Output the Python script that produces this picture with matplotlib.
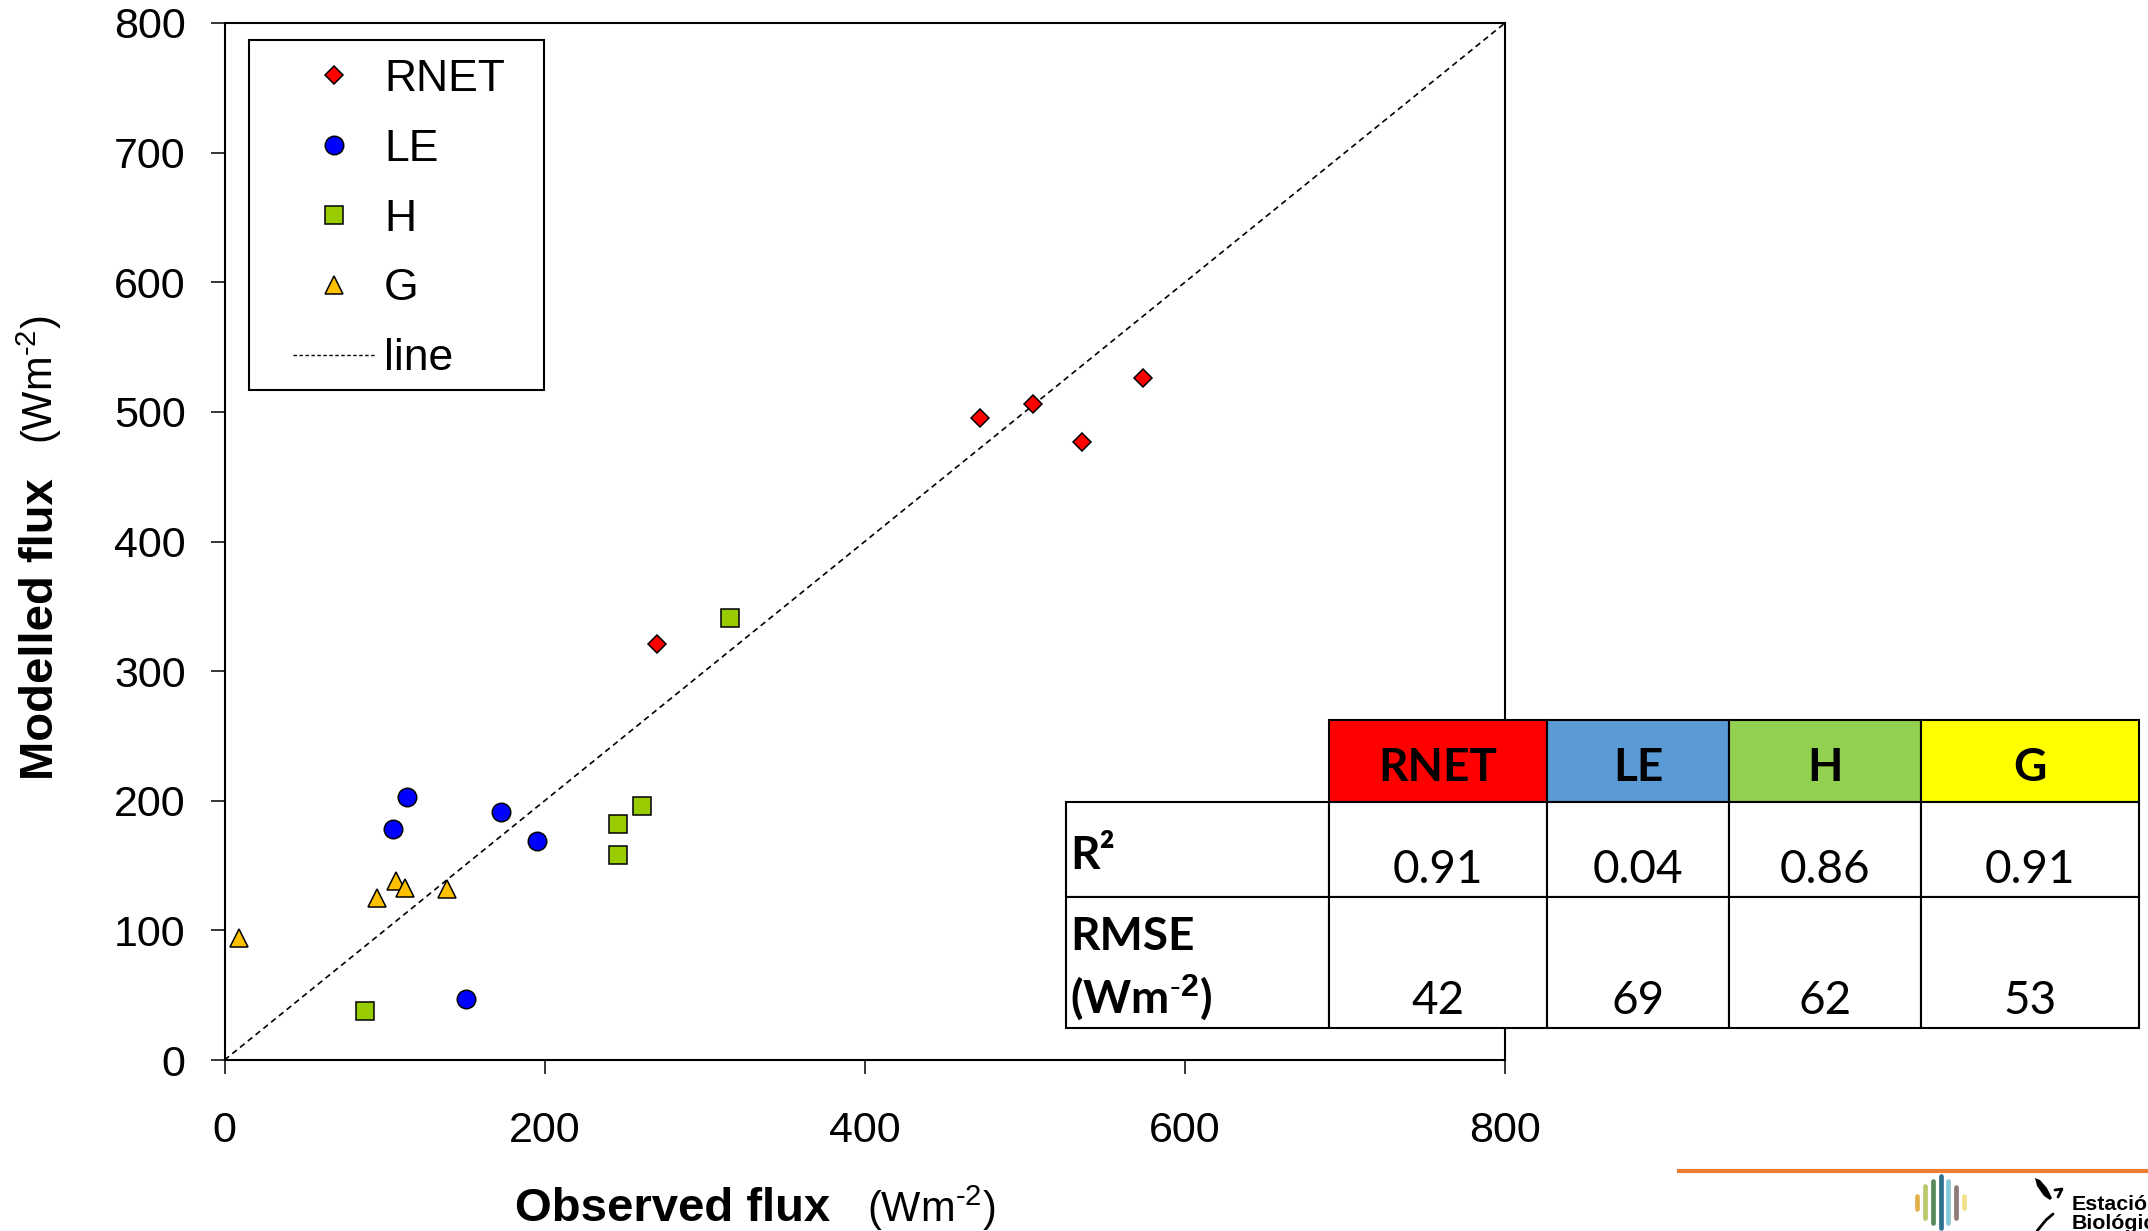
import matplotlib
matplotlib.use('Agg')
import matplotlib.pyplot as plt
from matplotlib.patches import Rectangle
from matplotlib.lines import Line2D

# ---------------- data ----------------
rnet_obs = [270, 472, 505, 536, 574]
rnet_mod = [321, 495, 506, 477, 526]
le_obs = [114, 105, 173, 195, 151]
le_mod = [203, 178, 191, 169, 47]
h_obs = [316, 261, 246, 246, 88]
h_mod = [341, 196, 182, 158, 38]
g_obs = [9, 95, 107, 113, 139]
g_mod = [94, 125, 138, 133, 132]
line_x = [0, 800]
line_y = [0, 800]
x_ticks = [0, 200, 400, 600, 800]
y_ticks = [0, 100, 200, 300, 400, 500, 600, 700, 800]
series_labels = ['RNET', 'LE', 'H', 'G', 'line']
table_cols = ['RNET', 'LE', 'H', 'G']
table_col_colors = ['#FF0000', '#5B9BD5', '#92D050', '#FFFF00']
r2_vals = ['0.91', '0.04', '0.86', '0.91']
rmse_vals = ['42', '69', '62', '53']

plt.rcParams['font.family'] = ['Liberation Sans', 'DejaVu Sans']
plt.rcParams['mathtext.fontset'] = 'custom'
plt.rcParams['mathtext.rm'] = 'Liberation Sans'
plt.rcParams['mathtext.it'] = 'Liberation Sans:italic'
plt.rcParams['mathtext.bf'] = 'Liberation Sans:bold'

W, H = 2148, 1231
fig = plt.figure(figsize=(W / 100, H / 100), dpi=100)
fig.patch.set_facecolor('white')

ax = fig.add_axes([224.5 / W, 1 - 1060 / H, (1505 - 224.5) / W, 1037 / H])
ax.set_xlim(0, 800)
ax.set_ylim(0, 800)
for s in ax.spines.values():
    s.set_linewidth(1.5)
ax.set_xticks(x_ticks)
ax.set_yticks(y_ticks)
ax.tick_params(direction='out', length=10, width=1.1, labelsize=31)
ax.tick_params(axis='x', pad=27)
ax.tick_params(axis='y', pad=18)

ln, = ax.plot(line_x, line_y, color='black', lw=1.2, linestyle=(0, (3.5, 2.5)), zorder=2)
mew = 1.1
p1, = ax.plot(rnet_obs, rnet_mod, 'D', ms=9.2, mfc='#FF0000', mec='black', mew=mew, ls='none', zorder=3)
p2, = ax.plot(le_obs, le_mod, 'o', ms=13.3, mfc='#0000FF', mec='black', mew=mew, ls='none', zorder=3)
p3, = ax.plot(h_obs, h_mod, 's', ms=13.3, mfc='#99CC00', mec='black', mew=mew, ls='none', zorder=3)
p4, = ax.plot(g_obs, g_mod, '^', ms=13.3, mfc='#FFC000', mec='black', mew=mew, ls='none', zorder=3)
proxy = Line2D([], [], color='black', lw=1.0, linestyle=(0, (2.5, 1.8)))

leg = ax.legend([p1, p2, p3, p4, proxy], series_labels, loc='upper left',
                bbox_to_anchor=(293 / W, 1 - 59 / H), bbox_transform=fig.transFigure,
                frameon=False, borderpad=0, borderaxespad=0, fontsize=32,
                handlelength=1.85, handletextpad=0.2, labelspacing=0.648, numpoints=1)

# ---------------- overlay in pixel coords ----------------
ov = fig.add_axes([0, 0, 1, 1], zorder=10)
ov.set_xlim(0, W)
ov.set_ylim(H, 0)
ov.axis('off')

# legend frame
ov.add_patch(Rectangle((249, 40), 295, 350, fill=False, ec='black', lw=1.5))

# axis labels
ov.text(672.6, 1221, 'Observed flux', fontsize=34, fontweight='bold', ha='center', va='baseline')
ov.text(931.5, 1222, r'(Wm$^{\text{-}2}$)', fontsize=30, ha='center', va='baseline')
ov.text(53, 629, 'Modelled flux', fontsize=34, fontweight='bold', rotation=90,
        rotation_mode='anchor', ha='center', va='baseline')
ov.text(53, 380, r'(Wm$^{\text{-}2}$)', fontsize=30, rotation=90,
        rotation_mode='anchor', ha='center', va='baseline')

# table
col_edges = [1328.6, 1547.2, 1729, 1920.5, 2139]
lab_left = 1065.6
y_head, y_r1, y_r2, y_bot = 720, 802.3, 897.3, 1028.3
tlw = 1.5
tfont = ['Lato', 'DejaVu Sans']
ov.add_patch(Rectangle((lab_left, y_r1), col_edges[0] - lab_left, y_r2 - y_r1, fc='white', ec='black', lw=tlw))
ov.add_patch(Rectangle((lab_left, y_r2), col_edges[0] - lab_left, y_bot - y_r2, fc='white', ec='black', lw=tlw))
for i, name in enumerate(table_cols):
    x0, x1 = col_edges[i], col_edges[i + 1]
    xc = (x0 + x1) / 2
    ov.add_patch(Rectangle((x0, y_head), x1 - x0, y_r1 - y_head, fc=table_col_colors[i], ec='black', lw=tlw))
    ov.add_patch(Rectangle((x0, y_r1), x1 - x0, y_r2 - y_r1, fc='white', ec='black', lw=tlw))
    ov.add_patch(Rectangle((x0, y_r2), x1 - x0, y_bot - y_r2, fc='white', ec='black', lw=tlw))
    ov.text(xc, 780.7, name, fontsize=33, fontweight='bold', family=tfont, ha='center', va='baseline')
    ov.text(xc, 883.3, r2_vals[i], fontsize=33, family=tfont, ha='center', va='baseline')
    ov.text(xc, 1014, rmse_vals[i], fontsize=33, family=tfont, ha='center', va='baseline')
ov.text(1070, 869.3, 'R²', fontsize=33, fontweight='bold', family=tfont, ha='left', va='baseline')
ov.text(1070, 950, 'RMSE', fontsize=33, fontweight='bold', family=tfont, ha='left', va='baseline')
ov.text(1070, 1014, r'(Wm$^{\mathbf{\text{-}2}}$)', fontsize=33, fontweight='bold', family=tfont,
        ha='left', va='baseline')

# footer decoration
ov.plot([1677, 2148], [1171, 1171], color='#ED7D31', lw=3, solid_capstyle='butt')
bar_x = [1916.7, 1925, 1932.7, 1941, 1948.3, 1956, 1964]
bar_h = [13, 32, 42, 52, 42, 31, 12]
bar_c = ['#E3B14B', '#B8C86A', '#5A8A5C', '#2F6F8F', '#86C9D8', '#8F7A78', '#F1E08A']
for bx, bh, bc in zip(bar_x, bar_h, bar_c):
    ov.plot([bx, bx], [1202 - bh / 2, 1202 + bh / 2], color=bc, lw=3.4, solid_capstyle='round')
ov.fill([2035, 2040, 2047, 2052, 2050, 2044, 2037], [1178, 1180, 1188, 1198, 1200, 1196, 1186],
        color='black', lw=0)
ov.plot([2055, 2062, 2058], [1190, 1189, 1197], color='black', lw=2, solid_capstyle='round')
ov.plot([2037, 2046, 2053], [1231, 1220, 1214], color='black', lw=2, solid_capstyle='round')
ov.text(2071.7, 1210, 'Estación', fontsize=15.4, fontweight='bold', ha='left', va='baseline')
ov.text(2071.7, 1229, 'Biológica', fontsize=15.4, fontweight='bold', ha='left', va='baseline')

fig.savefig('out.png', dpi=100, facecolor='white')
